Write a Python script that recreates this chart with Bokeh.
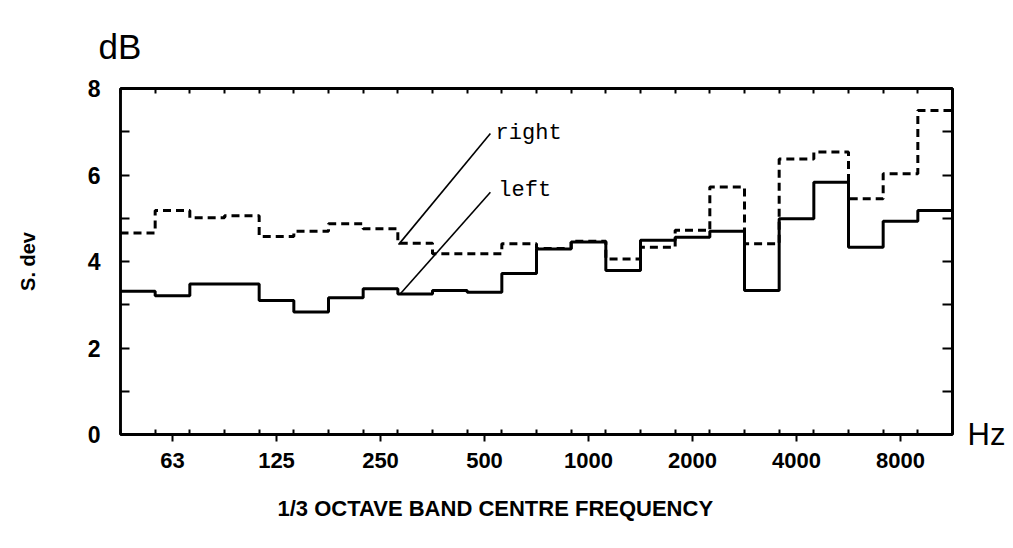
from bokeh.plotting import figure
from bokeh.models import Range1d, FixedTicker, LinearAxis, Label, Title
from bokeh.embed import file_html
from bokeh.resources import INLINE

# 1/3-octave bands, 50 Hz .. 10 kHz
bands = ["50", "63", "80", "100", "125", "160", "200", "250", "315", "400",
         "500", "630", "800", "1000", "1250", "1600", "2000", "2500", "3150",
         "4000", "5000", "6300", "8000", "10000"]
octave_labels = ["63", "125", "250", "500", "1000", "2000", "4000", "8000"]

sdev_right = [4.66, 5.18, 5.01, 5.06, 4.58, 4.70, 4.87, 4.76, 4.42, 4.18,
              4.18, 4.41, 4.30, 4.47, 4.06, 4.33, 4.72, 5.72, 4.41, 6.37,
              6.53, 5.45, 6.03, 7.49]
sdev_left = [3.31, 3.21, 3.48, 3.48, 3.10, 2.83, 3.16, 3.37, 3.25, 3.33,
             3.29, 3.72, 4.29, 4.45, 3.79, 4.49, 4.56, 4.70, 3.33, 4.99,
             5.83, 4.33, 4.93, 5.18]

y_ticks = [0, 1, 2, 3, 4, 5, 6, 7, 8]
y_labels = {0: "0", 2: "2", 4: "4", 6: "6", 8: "8"}

# leader lines for the curve labels (data coordinates)
lead_x0 = [10.67, 10.67]
lead_y0 = [6.96, 5.60]
lead_x1 = [8.02, 8.08]
lead_y1 = [4.39, 3.26]

n = len(bands)
edges = list(range(n + 1))
centers = [bands.index(b) + 0.5 for b in octave_labels]

p = figure(width=1010, height=546, output_backend="svg", toolbar_location=None,
           x_range=Range1d(0, n), y_range=Range1d(0, 8),
           min_border_left=120, min_border_right=58,
           min_border_top=88, min_border_bottom=112,
           background_fill_color="white", border_fill_color="white")
p.xgrid.visible = False
p.ygrid.visible = False
p.outline_line_color = "black"
p.outline_line_width = 2.5

bold_font = "Liberation Sans"

# bottom axis
xa = p.xaxis[0]
xa.ticker = FixedTicker(ticks=centers, minor_ticks=edges)
xa.major_label_overrides = {c: lab for c, lab in zip(centers, octave_labels)}
xa.major_tick_in = 0
xa.major_tick_out = 7
xa.minor_tick_in = 5
xa.minor_tick_out = 0
xa.major_tick_line_width = 2
xa.minor_tick_line_width = 2
xa.axis_line_width = 3
xa.major_label_standoff = 11
xa.major_label_text_font = bold_font
xa.major_label_text_font_style = "bold"
xa.major_label_text_font_size = "22px"
xa.major_label_text_color = "black"

# left axis
ya = p.yaxis[0]
ya.ticker = FixedTicker(ticks=y_ticks)
ya.major_label_overrides = {t: y_labels.get(t, "") for t in y_ticks}
ya.major_tick_in = 9
ya.major_tick_out = 0
ya.minor_tick_in = 0
ya.minor_tick_out = 0
ya.major_tick_line_width = 2
ya.axis_line_width = 2.5
ya.major_label_standoff = 20
ya.major_label_text_font = bold_font
ya.major_label_text_font_style = "bold"
ya.major_label_text_font_size = "23px"
ya.major_label_text_color = "black"
ya.axis_label = "S. dev"
ya.axis_label_standoff = 46
ya.axis_label_text_font = bold_font
ya.axis_label_text_font_style = "bold"
ya.axis_label_text_font_size = "20px"
ya.axis_label_text_color = "black"

# top axis (inward band-edge ticks)
top = LinearAxis(ticker=FixedTicker(ticks=[], minor_ticks=edges),
                 major_label_text_font_size="0px")
top.minor_tick_in = 5
top.minor_tick_out = 0
top.minor_tick_line_width = 2
top.axis_line_width = 3
p.add_layout(top, "above")

# right axis (inward unit ticks) carrying the "Hz" unit at the frame bottom
right = LinearAxis(ticker=FixedTicker(ticks=[0], minor_ticks=y_ticks),
                   major_label_overrides={0: "Hz"})
right.major_tick_in = 0
right.major_tick_out = 0
right.minor_tick_in = 10
right.minor_tick_out = 0
right.minor_tick_line_width = 2
right.axis_line_width = 3
right.major_label_standoff = 15
right.major_label_text_font = "Liberation Sans"
right.major_label_text_font_style = "normal"
right.major_label_text_font_size = "31px"
right.major_label_text_color = "black"
p.add_layout(right, "right")

# unit on the y axis, above the frame
p.add_layout(Title(text="dB", align="left", offset=-22, standoff=46,
                   text_font="Liberation Sans", text_font_style="normal",
                   text_font_size="35px", text_color="black"), "above")

# x-axis title, below the tick labels
p.add_layout(Title(text="1/3 OCTAVE BAND CENTRE FREQUENCY", align="left",
                   offset=157, standoff=46, text_font=bold_font,
                   text_font_style="bold", text_font_size="22px",
                   text_color="black"), "below")

# step curves
p.step(edges, sdev_right + [sdev_right[-1]], mode="after",
       line_color="black", line_width=3, line_dash="8 5")
p.step(edges, sdev_left + [sdev_left[-1]], mode="after",
       line_color="black", line_width=3)

# leader lines
p.segment(x0=lead_x0, y0=lead_y0, x1=lead_x1, y1=lead_y1,
          line_color="black", line_width=1.6)

mono = "'Liberation Mono', 'DejaVu Sans Mono', monospace"
p.add_layout(Label(x=10.82, y=6.96, text="right", text_font=mono,
                   text_font_size="22px", text_color="black",
                   text_baseline="alphabetic", text_align="left"))
p.add_layout(Label(x=10.90, y=5.64, text="left", text_font=mono,
                   text_font_size="22px", text_color="black",
                   text_baseline="alphabetic", text_align="left"))

open("out.html", "w").write(file_html(p, INLINE))
